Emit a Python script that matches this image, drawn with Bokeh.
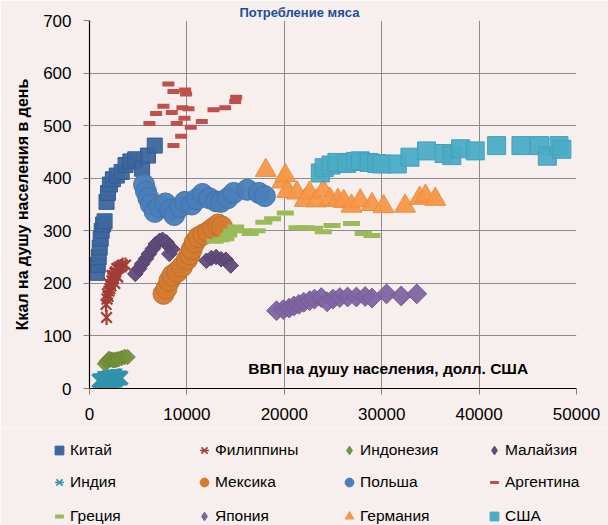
import numpy as np
from bokeh.plotting import figure
from bokeh.models import Range1d, FixedTicker, Label, Legend, LegendItem
from bokeh.embed import file_html
from bokeh.resources import INLINE

# ---------------- data (GDP per capita, USD ; kcal per capita per day) ----------------
series_names = ["Китай", "Филиппины", "Индонезия", "Малайзия", "Индия", "Мексика",
                "Польша", "Аргентина", "Греция", "Япония", "Германия", "США"]

china_x = [750, 850, 950, 1050, 1150, 1250, 1400, 1550, 1750, 1900, 2100, 2400, 2800, 3300, 3700, 4200, 4700, 5400, 6000, 6700]
china_y = [220, 235, 250, 268, 285, 300, 312, 318, 355, 372, 388, 398, 405, 412, 425, 432, 436, 418, 443, 462]

philippines_x = [1750, 1700, 1800, 1850, 1900, 2000, 2100, 2000, 2200, 2300, 2400, 2300, 2500, 2600, 2700, 2800, 3000, 3200, 3400, 3700, 2900, 2600]
philippines_y = [135, 160, 170, 180, 175, 185, 190, 200, 195, 205, 210, 215, 215, 220, 222, 228, 230, 232, 235, 235, 212, 200]

indonesia_x = [1600, 1800, 2000, 2200, 2400, 2600, 2800, 3000, 3300, 3600, 3900]
indonesia_y = [47, 52, 56, 55, 54, 54, 55, 56, 58, 60, 60]

malaysia_x = [4700, 5100, 5400, 5800, 6100, 6500, 6800, 7200, 7500, 7900, 8200, 8500, 8200, 12000, 12500, 13000, 13500, 14000, 14500]
malaysia_y = [218, 228, 237, 247, 256, 266, 275, 281, 283, 278, 270, 265, 256, 243, 248, 250, 246, 245, 234]

india_x = [1000, 1200, 1400, 1600, 1800, 2000, 2200, 2400, 2600, 2800, 3000, 3200]
india_y = [15, 15, 16, 17, 17, 18, 18, 19, 18, 19, 20, 20]

mexico_x = [7600, 7900, 8200, 8500, 9000, 9500, 10000, 10300, 10500, 10800, 11200, 11700, 12200, 12700, 13200, 13600]
mexico_y = [180, 190, 205, 215, 222, 232, 245, 255, 265, 278, 288, 293, 298, 305, 312, 308]

poland_x = [5600, 5800, 6050, 6300, 6700, 7200, 7800, 8300, 8700, 9300, 9800, 10500, 11000, 11600, 12300, 13000, 13500, 14200, 14800, 16200, 17400, 18000]
poland_y = [388, 375, 362, 350, 336, 345, 352, 340, 330, 345, 355, 350, 360, 370, 362, 356, 355, 362, 372, 378, 372, 366]

argentina_x = [8100, 8620, 9820, 9920, 15060, 14960, 13930, 12730, 7590, 6840, 8450, 9540, 10160, 9750, 11530, 6150, 8960, 10400, 9410, 8620]
argentina_y = [579, 565, 568, 560, 554, 546, 534, 530, 537, 523, 525, 534, 532, 514, 508, 504, 504, 497, 480, 462]

greece_x = [12900, 13500, 14000, 14300, 14600, 15000, 15800, 16500, 17200, 17900, 18800, 20100, 21300, 22200, 23100, 24000, 24900, 26900, 28100, 29000]
greece_y = [280, 283, 285, 292, 300, 307, 300, 295, 300, 316, 323, 334, 306, 306, 305, 298, 310, 314, 295, 291]

japan_x = [19200, 19900, 20500, 21000, 21500, 22000, 22600, 23100, 23800, 24400, 25000, 25700, 26500, 27400, 28300, 29000, 30500, 32000, 33600]
japan_y = [148, 150, 153, 157, 160, 164, 167, 170, 173, 165, 170, 173, 174, 174, 175, 172, 180, 176, 180]

germany_x = [18100, 19800, 20100, 20300, 21300, 22100, 22600, 23300, 24000, 24700, 25500, 26100, 26900, 27800, 29000, 30200, 32400, 33900, 34500, 35500]
germany_y = [415, 393, 405, 375, 372, 358, 372, 357, 376, 360, 358, 356, 347, 357, 350, 346, 347, 362, 366, 360]

usa_x = [23700, 24100, 24800, 25400, 26400, 27300, 27800, 28700, 29500, 30000, 31600, 32900, 34600, 36400, 37200, 38100, 39600, 41800, 44300, 46200, 47000, 48200, 48500]
usa_y = [410, 420, 425, 430, 428, 432, 433, 430, 428, 427, 427, 440, 452, 447, 443, 456, 452, 462, 462, 462, 442, 462, 455]

x_ticks = [0, 10000, 20000, 30000, 40000, 50000]
y_ticks = [0, 100, 200, 300, 400, 500, 600, 700]

title_text = "Потребление мяса"
y_label = "Ккал на душу населения в день"
x_label = "ВВП на душу населения, долл. США"

# ---------------- styles ----------------
FONT = "Liberation Sans"
BG = "#F6EFED"
C = {"Китай": "#3B679E", "Филиппины": "#A33C37", "Индонезия": "#77933C", "Малайзия": "#604A7B",
     "Индия": "#3092AB", "Мексика": "#D47B30", "Польша": "#4A7EBB", "Аргентина": "#C0504D",
     "Греция": "#9BBB59", "Япония": "#8064A2", "Германия": "#F79646", "США": "#4BACC6"}
ROT = np.pi / 4

def dk(hexc, f=0.9):
    h = hexc.lstrip("#")
    r, g, b = (int(h[i:i + 2], 16) for i in (0, 2, 4))
    return "#%02x%02x%02x" % (int(r * f), int(g * f), int(b * f))

# ---------------- main chart ----------------
p = figure(width=608, height=428, x_range=Range1d(0, 50000), y_range=Range1d(0, 700),
           output_backend="svg", toolbar_location=None,
           min_border_left=89, min_border_right=32, min_border_top=20, min_border_bottom=40,
           background_fill_color=BG, border_fill_color=BG)
p.outline_line_color = None

p.title.text = title_text
p.title.text_font = FONT
p.title.text_font_size = "13px"
p.title.text_font_style = "bold"
p.title.text_color = "#1F4E9A"
p.title.align = "left"
p.title.offset = 150
p.title.standoff = 2

for ax in (p.xaxis[0], p.yaxis[0]):
    ax.axis_line_color = "black"
    ax.axis_line_width = 1.2
    ax.major_tick_line_color = "#7f7f7f"
    ax.major_tick_out = 6
    ax.major_tick_in = 0
    ax.minor_tick_line_color = None
    ax.major_label_text_font = FONT
    ax.major_label_text_font_size = "17px"
    ax.major_label_text_color = "black"

p.xaxis.ticker = FixedTicker(ticks=x_ticks)
p.yaxis.ticker = FixedTicker(ticks=y_ticks)
p.xaxis.major_label_standoff = 13
p.yaxis.major_label_standoff = 12

p.yaxis.axis_label = y_label
p.yaxis.axis_label_text_font = FONT
p.yaxis.axis_label_text_font_size = "16px"
p.yaxis.axis_label_text_font_style = "bold"
p.yaxis.axis_label_text_color = "black"
p.yaxis.axis_label_standoff = 9

p.xgrid.ticker = FixedTicker(ticks=x_ticks)
p.ygrid.ticker = FixedTicker(ticks=y_ticks)
p.grid.grid_line_color = "#8c8c8c"
p.grid.grid_line_width = 1

p.scatter(china_x, china_y, marker="square", size=15, fill_color=C["Китай"],
          line_color=dk(C["Китай"]), fill_alpha=0.95)
p.scatter(philippines_x, philippines_y, marker="x", size=15, line_color=C["Филиппины"], line_width=2.2)
p.scatter(philippines_x, philippines_y, marker="dash", size=15, angle=np.pi / 2,
          line_color=C["Филиппины"], line_width=2.2)
p.scatter(indonesia_x, indonesia_y, marker="square", angle=ROT, size=11, fill_color=C["Индонезия"],
          line_color=dk(C["Индонезия"]), fill_alpha=0.95)
p.scatter(malaysia_x, malaysia_y, marker="square", angle=ROT, size=11, fill_color=C["Малайзия"],
          line_color=dk(C["Малайзия"]), fill_alpha=0.95)
p.scatter(india_x, india_y, marker="x", size=19, line_color=C["Индия"], line_width=3.5)
p.scatter(india_x, india_y, marker="dash", size=19, angle=np.pi / 2, line_color=C["Индия"], line_width=3.5)
p.scatter(mexico_x, mexico_y, marker="circle", size=21, fill_color=C["Мексика"],
          line_color=dk(C["Мексика"]), fill_alpha=0.95)
p.scatter(poland_x, poland_y, marker="circle", size=21, fill_color=C["Польша"],
          line_color=dk(C["Польша"]), fill_alpha=0.95)
p.scatter(argentina_x, argentina_y, marker="dash", size=12, line_color=C["Аргентина"], line_width=5)
p.scatter(greece_x, greece_y, marker="dash", size=17, line_color=C["Греция"], line_width=5)
p.scatter(japan_x, japan_y, marker="square", angle=ROT, size=14, fill_color=C["Япония"],
          line_color=dk(C["Япония"]), fill_alpha=0.95)
p.scatter(germany_x, germany_y, marker="triangle", size=21, fill_color=C["Германия"],
          line_color=dk(C["Германия"], 0.95), fill_alpha=0.95)
p.scatter(usa_x, usa_y, marker="square", size=18, fill_color=C["США"],
          line_color=dk(C["США"], 0.93), fill_alpha=0.95)

p.add_layout(Label(x=16300, y=38, text=x_label, text_font=FONT, text_font_size="15.5px",
                   text_font_style="bold", text_color="black", text_baseline="middle",
                   text_align="left"))

# ---------------- legend strip (second root under the chart) ----------------
q = figure(width=608, height=97, x_range=Range1d(0, 1), y_range=Range1d(0, 1),
           output_backend="svg", toolbar_location=None, title=None,
           x_axis_location=None, y_axis_location=None, min_border=0,
           background_fill_color=BG, border_fill_color=BG)
q.outline_line_color = None
q.grid.visible = False

SERIES = {"Китай": (china_x, china_y), "Филиппины": (philippines_x, philippines_y),
          "Индонезия": (indonesia_x, indonesia_y), "Малайзия": (malaysia_x, malaysia_y),
          "Индия": (india_x, india_y), "Мексика": (mexico_x, mexico_y),
          "Польша": (poland_x, poland_y), "Аргентина": (argentina_x, argentina_y),
          "Греция": (greece_x, greece_y), "Япония": (japan_x, japan_y),
          "Германия": (germany_x, germany_y), "США": (usa_x, usa_y)}

def leg_marker(name, marker, **kw):
    # legend swatch renderer: same series, lies outside this strip's ranges (only the swatch shows)
    xs, ys = SERIES[name]
    xs, ys = xs[:1], ys[:1]
    rends = []
    if marker == "asterisk6":
        rends.append(q.scatter(xs, ys, marker="x", line_color=C[name], line_width=1.5, **kw))
        rends.append(q.scatter(xs, ys, marker="dash", angle=np.pi / 2, line_color=C[name],
                               line_width=1.5, **kw))
    elif marker == "dash":
        rends.append(q.scatter(xs, ys, marker="dash", line_color=C[name], **kw))
    else:
        rends.append(q.scatter(xs, ys, marker=marker, fill_color=C[name], line_color=C[name], **kw))
    return LegendItem(label=name, renderers=rends)

rows = [
    [leg_marker("Китай", "square"), leg_marker("Филиппины", "asterisk6"),
     leg_marker("Индонезия", "diamond"), leg_marker("Малайзия", "diamond")],
    [leg_marker("Индия", "asterisk6"), leg_marker("Мексика", "circle"),
     leg_marker("Польша", "circle"), leg_marker("Аргентина", "dash", line_width=3)],
    [leg_marker("Греция", "dash", line_width=4), leg_marker("Япония", "diamond"),
     leg_marker("Германия", "triangle"), leg_marker("США", "square")],
]
row_offsets = [62, 30, -4]
for its, yoff in zip(rows, row_offsets):
    lg = Legend(items=its, orientation="horizontal", location=(48, yoff),
                label_text_font=FONT, label_text_font_size="15.5px", label_text_color="black",
                glyph_width=22, glyph_height=26, label_height=20, label_width=115,
                label_standoff=0, spacing=8, padding=0, margin=0,
                border_line_color=None, background_fill_alpha=0)
    q.add_layout(lg, "center")

open("out.html", "w").write(file_html([p, q], INLINE))
